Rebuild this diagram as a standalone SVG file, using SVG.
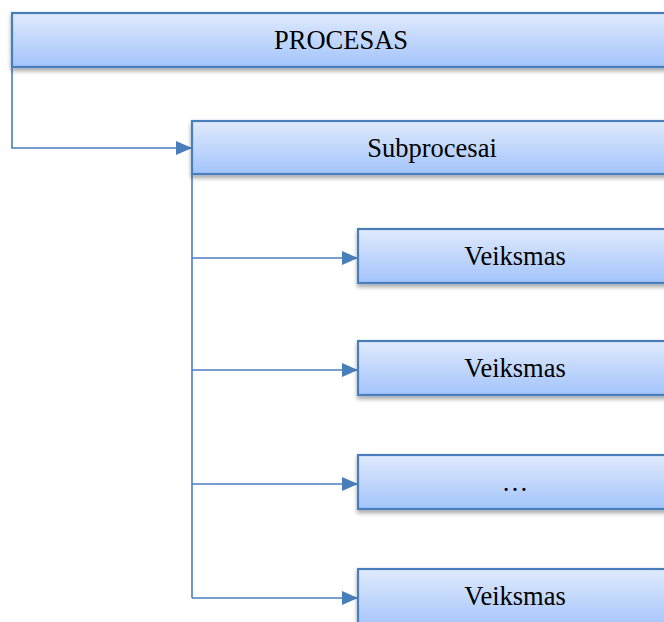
<svg xmlns="http://www.w3.org/2000/svg" width="664" height="622" viewBox="0 0 664 622">
<defs>
<linearGradient id="g" x1="0" y1="0" x2="0" y2="1">
<stop offset="0" stop-color="#e0eafc"/>
<stop offset="1" stop-color="#a3c4fc"/>
</linearGradient>
<filter id="sh" x="-5%" y="-20%" width="110%" height="150%">
<feGaussianBlur in="SourceAlpha" stdDeviation="2"/>
<feOffset dx="0" dy="3"/>
<feComponentTransfer><feFuncA type="linear" slope="0.35"/></feComponentTransfer>
<feMerge><feMergeNode/><feMergeNode in="SourceGraphic"/></feMerge>
</filter>
<marker id="ah" markerWidth="16" markerHeight="14" refX="16" refY="7" orient="auto" markerUnits="userSpaceOnUse">
<path d="M0,0 L16,7 L0,14 Z" fill="#4a7ebb"/>
</marker>
</defs>
<style>
.box{fill:url(#g);stroke:#4a7ebb;stroke-width:2.2;filter:url(#sh)}
.lbl{font-family:"Liberation Serif","Times New Roman",serif;font-size:26.5px;fill:#000;text-anchor:middle}
.con{fill:none;stroke:#4a7ebb;stroke-width:1.6}
</style>
<rect width="664" height="622" fill="#fff"/>
<g id="connectors">
<path class="con" d="M12,67 V148 H192" marker-end="url(#ah)"/>
<path class="con" d="M192,174 V598"/>
<path class="con" d="M192,258 H358" marker-end="url(#ah)"/>
<path class="con" d="M192,370 H358" marker-end="url(#ah)"/>
<path class="con" d="M192,484 H358" marker-end="url(#ah)"/>
<path class="con" d="M192,598 H358" marker-end="url(#ah)"/>
</g>
<g id="procesas">
<rect class="box" x="12" y="13" width="662" height="54"/>
<text class="lbl" x="341" y="49">PROCESAS</text>
</g>
<g id="subprocesai">
<rect class="box" x="192" y="121" width="482" height="53"/>
<text class="lbl" x="432" y="157">Subprocesai</text>
</g>
<g id="veiksmas1">
<rect class="box" x="358" y="229" width="316" height="54"/>
<text class="lbl" x="515" y="265">Veiksmas</text>
</g>
<g id="veiksmas2">
<rect class="box" x="358" y="341" width="316" height="54"/>
<text class="lbl" x="515" y="377">Veiksmas</text>
</g>
<g id="ellipsis">
<rect class="box" x="358" y="455" width="316" height="54"/>
<text class="lbl" x="515" y="491">…</text>
</g>
<g id="veiksmas3">
<rect class="box" x="358" y="569" width="316" height="60"/>
<text class="lbl" x="515" y="605">Veiksmas</text>
</g>
</svg>
